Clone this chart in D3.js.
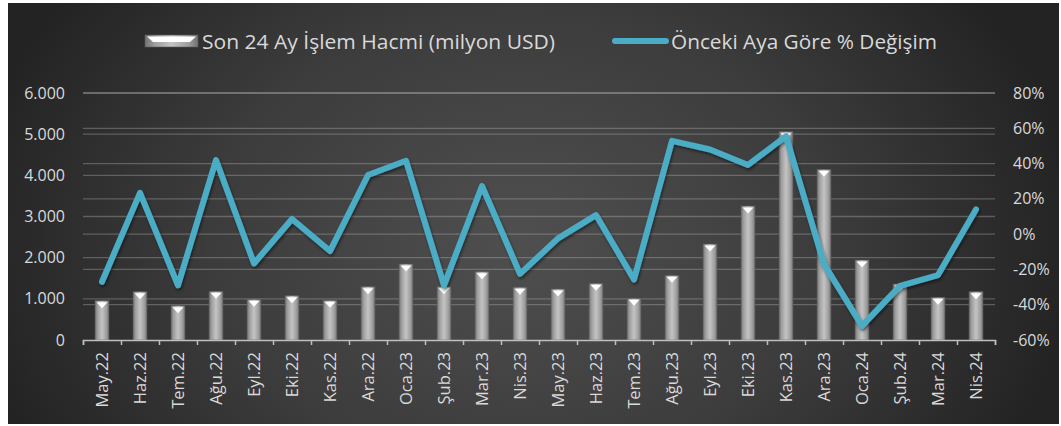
<!DOCTYPE html>
<html><head><meta charset="utf-8">
<script src="https://cdn.jsdelivr.net/npm/d3@7"></script>
<style>html,body{margin:0;padding:0;background:#fff;}svg{display:block;}</style>
</head><body>
<script>
const categories = ["May.22","Haz.22","Tem.22","Ağu.22","Eyl.22","Eki.22","Kas.22","Ara.22","Oca.23","Şub.23","Mar.23","Nis.23","May.23","Haz.23","Tem.23","Ağu.23","Eyl.23","Eki.23","Kas.23","Ara.23","Oca.24","Şub.24","Mar.24","Nis.24"];
const volume = [955,1173,833,1183,988,1076,964,1295,1846,1295,1660,1282,1239,1376,1012,1571,2332,3255,5060,4145,1943,1360,1036,1173];
const change = [-27,23.4,-29,42,-16.6,8.6,-9.6,33.5,41.6,-29,27.3,-22.5,-2.4,10.8,-25.7,52.9,48,39.2,55.6,-17,-52,-29.3,-23.2,14];
const leftTicks = [0,1000,2000,3000,4000,5000,6000];
const rightTicks = [-60,-40,-20,0,20,40,60,80];
const seriesNames = ["Son 24 Ay İşlem Hacmi (milyon USD)","Önceki Aya Göre % Değişim"];

(function(){
const W = 1061, H = 426;
const svg = d3.select("body").append("svg").attr("width", W).attr("height", H);
const defs = svg.append("defs");

const bg = defs.append("radialGradient").attr("id","bg").attr("gradientUnits","userSpaceOnUse")
  .attr("cx",520).attr("cy",240).attr("r",560).attr("fx",520).attr("fy",240)
  .attr("gradientTransform","translate(520,240) scale(1,0.75) translate(-520,-240)");
bg.append("stop").attr("offset","0").attr("stop-color","#4f4f4f");
bg.append("stop").attr("offset","0.55").attr("stop-color","#3c3c3c");
bg.append("stop").attr("offset","1").attr("stop-color","#232323");

const barG = defs.append("linearGradient").attr("id","barG").attr("x1","0").attr("x2","1").attr("y1","0").attr("y2","0");
barG.append("stop").attr("offset","0").attr("stop-color","#727272");
barG.append("stop").attr("offset","0.18").attr("stop-color","#9e9e9e");
barG.append("stop").attr("offset","0.5").attr("stop-color","#c4c4c4");
barG.append("stop").attr("offset","0.82").attr("stop-color","#9e9e9e");
barG.append("stop").attr("offset","1").attr("stop-color","#727272");

const f = defs.append("filter").attr("id","sh").attr("x","-10%").attr("y","-10%").attr("width","120%").attr("height","130%");
f.append("feDropShadow").attr("dx",1).attr("dy",2).attr("stdDeviation",1.5).attr("flood-color","#000").attr("flood-opacity",0.5);

svg.append("rect").attr("x",8).attr("y",3).attr("width",1051).attr("height",421).attr("fill","url(#bg)");

const pL = 83, pR = 995, pT = 93, pB = 340;
const x = d3.scaleBand().domain(categories).range([pL,pR]).paddingInner(0.632).paddingOuter(0.316);
const yL = d3.scaleLinear().domain([0,6000]).range([pB,pT]);
const yR = d3.scaleLinear().domain([-60,80]).range([pB,pT]);

const grid = svg.append("g");
grid.selectAll("line.gl").data(leftTicks.filter(d=>d>0)).join("line").attr("class","gl")
  .attr("x1",pL).attr("x2",pR).attr("y1",d=>yL(d)).attr("y2",d=>yL(d))
  .attr("stroke","#bbbbbb").attr("stroke-opacity",0.35).attr("stroke-width",1.3);
grid.selectAll("line.gr").data(rightTicks.filter(d=>d>-60)).join("line").attr("class","gr")
  .attr("x1",pL).attr("x2",pR).attr("y1",d=>yR(d)).attr("y2",d=>yR(d))
  .attr("stroke","#bbbbbb").attr("stroke-opacity",0.35).attr("stroke-width",1.3);

const fmt = d3.formatLocale({decimal:",",thousands:".",grouping:[3],currency:["",""]}).format(",");
const font = "'Open Sans', sans-serif";
const txtCol = "#d9d9d9";

const axL = svg.append("g").attr("transform",`translate(${pL},0)`)
  .call(d3.axisLeft(yL).tickValues(leftTicks).tickFormat(fmt).tickSize(0).tickPadding(18));
const axR = svg.append("g").attr("transform",`translate(${pR},0)`)
  .call(d3.axisRight(yR).tickValues(rightTicks).tickFormat(d=>d+"%").tickSize(0).tickPadding(18));
[axL,axR].forEach(a=>{a.select(".domain").remove();a.selectAll("text").attr("fill",txtCol).attr("font-family",font).attr("font-size",16);});

const bars = svg.append("g");
bars.selectAll("rect").data(volume).join("rect")
  .attr("x",(d,i)=>x(categories[i])).attr("width",x.bandwidth())
  .attr("y",d=>yL(d)).attr("height",d=>pB-yL(d))
  .attr("fill","url(#barG)").attr("stroke","#5a5a5a").attr("stroke-width",0.6);
bars.selectAll("path").data(volume).join("path")
  .attr("d",(d,i)=>{const x0=x(categories[i]), w=x.bandwidth(), t=yL(d);
    return `M${x0+1.5},${t+1.5}L${x0+w-1.5},${t+1.5}L${x0+w/2},${t+7.5}Z`;})
  .attr("fill","#ffffff");

const xb = d3.scaleLinear().domain([0,categories.length]).range([pL,pR]);
const axB = svg.append("g").attr("transform",`translate(0,${pB})`)
  .call(d3.axisBottom(xb).tickValues(d3.range(categories.length+1)).tickSize(5).tickFormat(""));
axB.select(".domain").attr("stroke","#bfbfbf").attr("stroke-width",1.5);
axB.selectAll(".tick line").attr("stroke","#bfbfbf").attr("stroke-width",1.5);

const axX = svg.append("g").attr("transform",`translate(0,${pB})`)
  .call(d3.axisBottom(x).tickSize(0).tickPadding(0));
axX.select(".domain").remove();
axX.selectAll("text").attr("fill",txtCol).attr("font-family",font).attr("font-size",16.5)
  .attr("transform","translate(0,12) rotate(-90)").attr("text-anchor","end").attr("dy","0.36em").attr("y",0).attr("x",0);

const line = d3.line().x((d,i)=>x(categories[i])+x.bandwidth()/2).y(d=>yR(d));
svg.append("path").datum(change).attr("d",line).attr("fill","none")
  .attr("stroke","#4bacc6").attr("stroke-width",6).attr("stroke-linejoin","round").attr("stroke-linecap","round")
  .attr("filter","url(#sh)");

const lg = svg.append("g");
lg.append("rect").attr("x",145).attr("y",35).attr("width",53).attr("height",12).attr("fill","url(#barG)").attr("stroke","#5a5a5a").attr("stroke-width",0.6);
lg.append("path").attr("d","M147,36.5L196,36.5L190,42L153,42Z").attr("fill","#ffffff");
lg.append("text").attr("x",202).attr("y",49).attr("textLength",353).attr("lengthAdjust","spacingAndGlyphs").text(seriesNames[0]);
lg.append("line").attr("x1",615).attr("x2",666).attr("y1",41).attr("y2",41)
  .attr("stroke","#4bacc6").attr("stroke-width",6).attr("stroke-linecap","round");
lg.append("text").attr("x",671).attr("y",49).attr("textLength",266).attr("lengthAdjust","spacingAndGlyphs").text(seriesNames[1]);
lg.selectAll("text").attr("fill",txtCol).attr("font-family",font).attr("font-size",20.5);
})();
</script>
</body></html>
